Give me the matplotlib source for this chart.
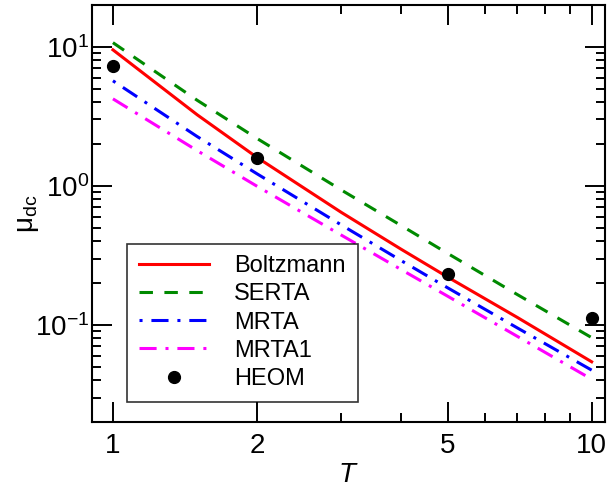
import numpy as np
import matplotlib
matplotlib.use("Agg")
import matplotlib.pyplot as plt
from matplotlib.ticker import LogLocator, FixedLocator, FixedFormatter, NullFormatter

plt.rcParams["font.family"] = ["Liberation Sans", "DejaVu Sans"]
plt.rcParams["mathtext.fontset"] = "custom"
plt.rcParams["mathtext.rm"] = "Liberation Sans"
plt.rcParams["mathtext.it"] = "Liberation Sans:italic"
plt.rcParams["mathtext.default"] = "regular"

# ----- data -----
T_model = [1, 1.5, 2, 3, 4, 5, 7, 10]
boltzmann = [9.5, 3.24, 1.60, 0.644, 0.350, 0.221, 0.113, 0.0543]
serta = [10.7, 4.12, 2.19, 0.933, 0.518, 0.327, 0.165, 0.081]
mrta = [5.69, 2.26, 1.22, 0.523, 0.29, 0.185, 0.095, 0.0473]
mrta1 = [4.22, 1.79, 0.993, 0.442, 0.250, 0.161, 0.0826, 0.0407]

T_heom = [1, 2, 5, 10]
heom = [7.3, 1.58, 0.233, 0.112]

x_ticks = [1, 2, 5, 10]
x_ticklabels = ["1", "2", "5", "10"]

fig = plt.figure(figsize=(6.09, 4.88), dpi=100)
ax = fig.add_axes([0.151, 0.135, 0.842, 0.855])

lw = 2.2
ax.plot(T_model, boltzmann, color="#ff0000", lw=lw, label="Boltzmann")
ax.plot(T_model, serta, color="#008a00", lw=lw, dashes=(4.4, 3.75), label="SERTA")
ax.plot(T_model, mrta, color="#0000ff", lw=lw, dashes=(1, 2.9, 5.6, 2.9), label="MRTA")
ax.plot(T_model, mrta1, color="#ff00ff", lw=lw, dashes=(5.6, 2.9, 1, 2.9), label="MRTA1")
ax.plot(T_heom, heom, "o", color="black", ms=8.5, ls="none", label="HEOM")

ax.set_xscale("log")
ax.set_yscale("log")
ax.set_xlim(0.904, 10.65)
ax.set_ylim(0.02, 20)

ax.xaxis.set_major_locator(FixedLocator(x_ticks))
ax.xaxis.set_major_formatter(FixedFormatter(x_ticklabels))
ax.xaxis.set_minor_locator(FixedLocator([3, 4, 6, 7, 8, 9]))
ax.xaxis.set_minor_formatter(NullFormatter())
ax.yaxis.set_major_locator(LogLocator(base=10, numticks=10))
ax.yaxis.set_minor_locator(LogLocator(base=10, subs=np.arange(2, 10), numticks=10))
ax.yaxis.set_minor_formatter(NullFormatter())

ax.tick_params(which="both", direction="in", top=True, right=True, width=1.4)
ax.tick_params(which="major", length=14.5, labelsize=20)
ax.tick_params(which="minor", length=6.8)
ax.tick_params(axis="x", which="major", pad=8)
ax.tick_params(axis="y", which="major", pad=2)
for s in ax.spines.values():
    s.set_linewidth(1.5)

ax.set_xlabel("$\\it{T}$", fontsize=20, labelpad=2)
ax.set_ylabel("$\\mu_{dc}$", fontsize=20)
ax.yaxis.set_label_coords(-0.10, 0.5)

leg = ax.legend(loc="lower left", bbox_to_anchor=(0.068, 0.049), fontsize=17,
                frameon=True, fancybox=False, handlelength=3.0, handletextpad=1.05,
                labelspacing=0.26, borderpad=0.5, borderaxespad=0)
leg.get_frame().set_edgecolor("black")
leg.get_frame().set_linewidth(1.2)

plt.savefig("out.png", dpi=100)
